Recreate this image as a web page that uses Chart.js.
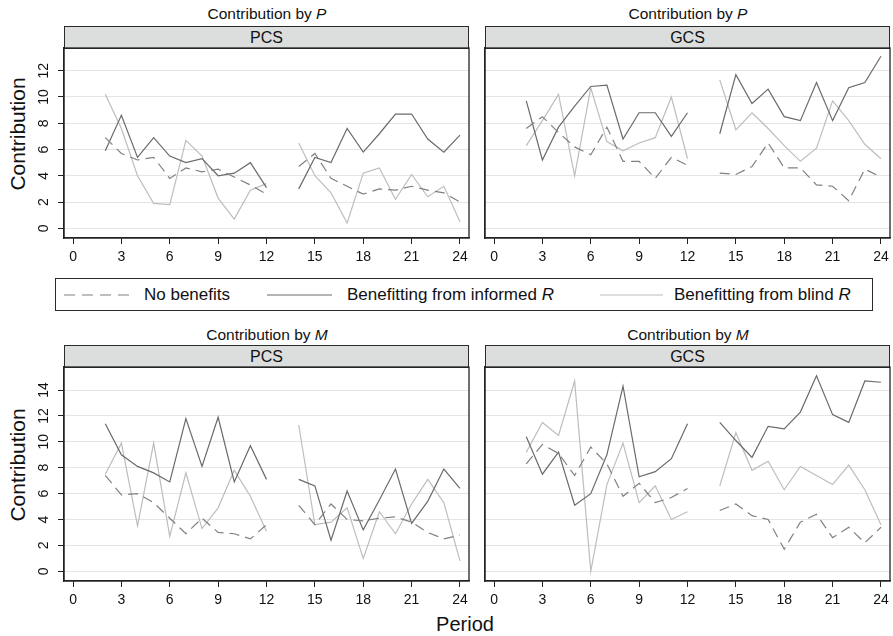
<!DOCTYPE html>
<html>
<head>
<meta charset="utf-8">
<script src="https://cdn.jsdelivr.net/npm/chart.js@4.4.1/dist/chart.umd.min.js"></script>
<style>
  body { margin: 0; background: #fff; font-family: "Liberation Sans", Arial, sans-serif; color: #111; }
  #wrap { position: relative; width: 893px; height: 636px; overflow: hidden; }
  #wrap canvas { position: absolute; }
  .title { position: absolute; font-size: 15.5px; line-height: 18px; white-space: nowrap; transform: translateX(-50%); }
  .strip { position: absolute; box-sizing: border-box; background: #dcdddd; border: 1px solid #2a2a2a;
           text-align: center; font-size: 16px; line-height: 21px; }
  .ytitle { position: absolute; font-size: 21px; white-space: nowrap; transform: translate(-50%, -50%) rotate(-90deg); }
  .xtitle { position: absolute; font-size: 20px; white-space: nowrap; transform: translate(-50%, -50%); }
  #legend { position: absolute; left: 55px; top: 278px; width: 818px; height: 33px; box-sizing: border-box;
            border: 1px solid #2a2a2a; font-size: 17px; }
  #legend span { position: absolute; top: 6px; white-space: nowrap; }
  #legend svg { position: absolute; top: 0; left: 0; }
</style>
</head>
<body>
<div id="wrap">
  <div class="title" style="left:267px; top:5px">Contribution by <i>P</i></div>
  <div class="title" style="left:688px; top:5px">Contribution by <i>P</i></div>
  <div class="title" style="left:267px; top:326px">Contribution by <i>M</i></div>
  <div class="title" style="left:688px; top:326px">Contribution by <i>M</i></div>

  <div class="strip" style="left:64px; top:26px; width:405px; height:23px">PCS</div>
  <div class="strip" style="left:485px; top:26px; width:405px; height:23px">GCS</div>
  <div class="strip" style="left:64px; top:345px; width:405px; height:23px">PCS</div>
  <div class="strip" style="left:485px; top:345px; width:405px; height:23px">GCS</div>

  <div class="ytitle" style="left:17.5px; top:133.5px">Contribution</div>
  <div class="ytitle" style="left:17.5px; top:464.5px">Contribution</div>
  <div class="xtitle" style="left:465px; top:624px">Period</div>

  <div id="legend">
    <svg width="818" height="31">
      <line x1="8" y1="16" x2="73" y2="16" stroke="#808080" stroke-width="1.2" stroke-dasharray="11,7"></line>
      <line x1="211" y1="16" x2="276" y2="16" stroke="#6a6a6a" stroke-width="1.2"></line>
      <line x1="544" y1="16" x2="607" y2="16" stroke="#bdbdbd" stroke-width="1.2"></line>
    </svg>
    <span style="left:88px">No benefits</span>
    <span style="left:291px">Benefitting from informed <i>R</i></span>
    <span style="left:618px">Benefitting from blind <i>R</i></span>
  </div>

  <canvas id="pPcs"></canvas>
  <canvas id="pGcs"></canvas>
  <canvas id="mPcs"></canvas>
  <canvas id="mGcs"></canvas>
</div>

<script>
// periods 2-12 and 14-24, 13 left empty to break the lines
const periods = [2, 3, 4, 5, 6, 7, 8, 9, 10, 11, 12, 13, 14, 15, 16, 17, 18, 19, 20, 21, 22, 23, 24];
const xTicks = [0, 3, 6, 9, 12, 15, 18, 21, 24];
const yTicksP = [0, 2, 4, 6, 8, 10, 12];
const yTicksM = [0, 2, 4, 6, 8, 10, 12, 14];

// Contribution by P, PCS
const pPcsNone     = [6.9, 5.7, 5.2, 5.4, 3.8, 4.6, 4.3, 4.5, 3.9, 3.3, 2.6, null, 4.7, 5.7, 3.8, 3.2, 2.6, 3.0, 2.9, 3.2, 2.9, 2.7, 2.0];
const pPcsInformed = [5.9, 8.6, 5.4, 6.9, 5.5, 5.0, 5.3, 4.0, 4.2, 5.0, 3.1, null, 3.0, 5.4, 5.0, 7.6, 5.8, 7.2, 8.7, 8.7, 6.8, 5.8, 7.1];
const pPcsBlind    = [10.2, 7.6, 4.0, 1.9, 1.8, 6.7, 5.5, 2.3, 0.7, 2.9, 3.4, null, 6.5, 4.0, 2.7, 0.4, 4.2, 4.6, 2.2, 4.1, 2.4, 3.2, 0.5];

// Contribution by P, GCS
const pGcsNone     = [7.6, 8.5, 7.3, 6.2, 5.6, 7.7, 5.1, 5.1, 3.8, 5.4, 4.8, null, 4.2, 4.1, 4.7, 6.5, 4.6, 4.6, 3.3, 3.2, 2.1, 4.5, 3.9];
const pGcsInformed = [9.7, 5.2, 7.7, 9.3, 10.8, 10.9, 6.8, 8.8, 8.8, 7.0, 8.8, null, 7.2, 11.7, 9.5, 10.6, 8.5, 8.2, 11.1, 8.2, 10.7, 11.1, 13.1];
const pGcsBlind    = [6.3, 8.2, 10.2, 4.0, 10.7, 6.6, 5.9, 6.5, 6.9, 10.0, 5.3, null, 11.3, 7.5, 8.8, 7.6, 6.3, 5.1, 6.1, 9.7, 8.2, 6.4, 5.3];

// Contribution by M, PCS
const mPcsNone     = [7.4, 5.9, 6.0, 5.3, 4.1, 2.9, 4.1, 3.0, 2.9, 2.5, 3.6, null, 5.1, 3.6, 5.2, 4.0, 3.9, 4.1, 4.2, 3.8, 3.0, 2.5, 2.8];
const mPcsInformed = [11.4, 9.0, 8.1, 7.6, 6.9, 11.8, 8.1, 11.9, 6.9, 9.7, 7.1, null, 7.1, 6.6, 2.4, 6.2, 3.2, 5.5, 7.9, 3.7, 5.4, 7.9, 6.4];
const mPcsBlind    = [7.5, 9.9, 3.5, 9.9, 2.7, 7.6, 3.3, 4.9, 7.8, 5.8, 3.1, null, 11.3, 3.6, 3.8, 4.9, 1.0, 4.6, 2.9, 5.2, 7.1, 5.3, 0.8];

// Contribution by M, GCS
const mGcsNone     = [8.3, 9.8, 9.1, 7.4, 9.6, 8.3, 5.8, 6.8, 5.3, 5.7, 6.4, null, 4.7, 5.2, 4.3, 4.0, 1.7, 3.8, 4.4, 2.6, 3.4, 2.2, 3.4];
const mGcsInformed = [10.4, 7.5, 9.2, 5.1, 6.0, 9.0, 14.3, 7.3, 7.7, 8.7, 11.4, null, 11.5, 10.1, 8.8, 11.2, 11.0, 12.3, 15.1, 12.1, 11.5, 14.7, 14.6];
const mGcsBlind    = [9.2, 11.5, 10.5, 14.7, 0.0, 6.7, 9.9, 5.3, 6.6, 4.0, 4.6, null, 6.6, 10.7, 7.8, 8.5, 6.3, 8.1, 7.4, 6.7, 8.2, 6.3, 3.6];

const FONT = '"Liberation Sans", Arial, sans-serif';
const AXIS = '#222';

// box around each plot region
const frame = {
  id: 'frame',
  afterDraw(chart) {
    const { ctx, chartArea: a } = chart;
    ctx.save();
    ctx.strokeStyle = AXIS;
    ctx.lineWidth = 1.3;
    ctx.strokeRect(a.left, a.top, a.right - a.left, a.bottom - a.top);
    ctx.restore();
  }
};

function points(vals) {
  return periods.map((x, i) => ({ x: x, y: vals[i] }));
}

function panel(id, left, top, height, series, yTicks, yMin, yMax, showY) {
  const canvas = document.getElementById(id);
  canvas.width = 451;
  canvas.height = 4 + height + 32;
  canvas.style.left = (left - 40) + 'px';
  canvas.style.top = (top - 4) + 'px';

  const line = { pointRadius: 0, borderWidth: 1.2, tension: 0, spanGaps: false, fill: false };

  return new Chart(canvas, {
    type: 'line',
    data: {
      datasets: [
        { ...line, label: 'No benefits', data: points(series[0]), borderColor: '#808080', borderDash: [10, 6] },
        { ...line, label: 'Benefitting from informed R', data: points(series[1]), borderColor: '#6a6a6a' },
        { ...line, label: 'Benefitting from blind R', data: points(series[2]), borderColor: '#bdbdbd' }
      ]
    },
    options: {
      responsive: false,
      animation: false,
      events: [],
      layout: { padding: { left: 0, right: 6, top: 4, bottom: 0 } },
      plugins: { legend: { display: false }, tooltip: { enabled: false } },
      scales: {
        x: {
          type: 'linear',
          min: -0.56,
          max: 24.56,
          afterBuildTicks: s => { s.ticks = xTicks.map(v => ({ value: v })); },
          afterFit: s => { s.height = 32; s.paddingLeft = 0; s.paddingRight = 0; },
          grid: { drawOnChartArea: false, tickLength: 6, tickColor: AXIS, tickWidth: 1 },
          border: { color: AXIS, width: 1.3 },
          ticks: { font: { family: FONT, size: 14 }, color: '#111', padding: 5, maxRotation: 0, autoSkip: false }
        },
        y: {
          min: yMin,
          max: yMax,
          afterBuildTicks: s => { s.ticks = yTicks.map(v => ({ value: v })); },
          afterFit: s => { s.width = 40; s.paddingTop = 0; s.paddingBottom = 0; },
          grid: { color: '#e4e4e4', lineWidth: 1, drawTicks: showY, tickLength: 6, tickColor: AXIS },
          border: { color: AXIS, width: 1.3 },
          ticks: {
            display: showY,
            font: { family: FONT, size: 14 },
            color: '#111',
            minRotation: 90,
            maxRotation: 90,
            crossAlign: 'center',
            padding: 6
          }
        }
      }
    },
    plugins: [frame]
  });
}

panel('pPcs', 64, 48, 190, [pPcsNone, pPcsInformed, pPcsBlind], yTicksP, -0.74, 13.73, true);
panel('pGcs', 485, 48, 190, [pGcsNone, pGcsInformed, pGcsBlind], yTicksP, -0.74, 13.73, false);
panel('mPcs', 64, 367, 214, [mPcsNone, mPcsInformed, mPcsBlind], yTicksM, -0.75, 15.78, true);
panel('mGcs', 485, 367, 214, [mGcsNone, mGcsInformed, mGcsBlind], yTicksM, -0.75, 15.78, false);
</script>
</body>
</html>
